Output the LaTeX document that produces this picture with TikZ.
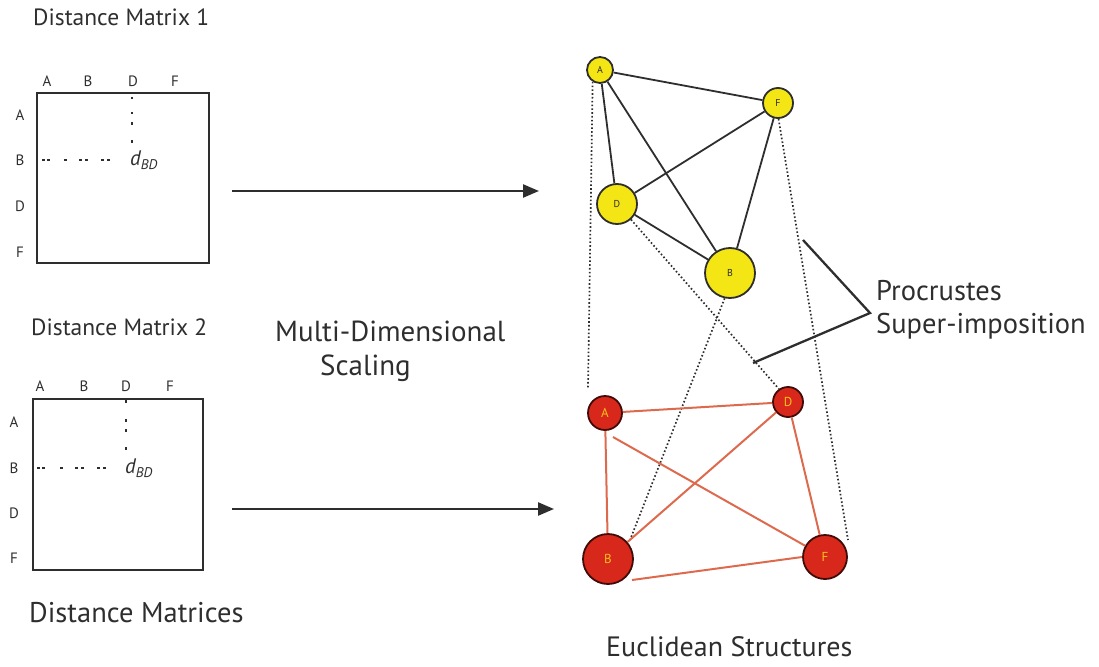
\documentclass[tikz,border=0pt]{standalone}
\usepackage{fontspec}
\setmainfont{PT Sans}
\usetikzlibrary{arrows.meta}
\definecolor{ink}{HTML}{2E2E2E}
\definecolor{ylfill}{HTML}{F4E514}
\definecolor{rdfill}{HTML}{D8281C}
\definecolor{rdline}{HTML}{DE6A4E}
\definecolor{rdtext}{HTML}{F6C21A}
\tikzset{
  lbl/.style={text=ink, inner sep=0pt},
  axis/.style={lbl, font=\fontsize{15}{15}\selectfont},
  title/.style={lbl, anchor=west, font=\fontsize{23.5}{23.5}\selectfont},
  big/.style={lbl, font=\fontsize{29}{37}\selectfont},
  matbox/.style={draw=ink, line width=2pt},
  mdash/.style={draw=ink, line width=1.6pt},
  flow/.style={draw=ink, line width=2.4pt, -{Triangle[length=16pt,width=13pt]}},
  ynode/.style={circle, draw=ink, line width=1.8pt, fill=ylfill, inner sep=0pt,
    font=\fontsize{10}{10}\selectfont, text=ink},
  rnode/.style={circle, draw=black!70!rdfill, line width=1.8pt, fill=rdfill, inner sep=0pt,
    font=\fontsize{13}{13}\selectfont, text=rdtext},
  yedge/.style={draw=ink, line width=1.8pt},
  redge/.style={draw=rdline, line width=2pt},
  link/.style={draw=ink, line width=1.7pt, dash pattern=on 1.6pt off 2.2pt},
  brace/.style={draw=ink, line width=2.3pt}
}
\begin{document}
\begin{tikzpicture}[x=1pt, y=-1pt]
\useasboundingbox (0,0) rectangle (1099,666);

% ---------- distance matrix 1 ----------
\node[title] (t1) at (33,17) {Distance Matrix 1};
\draw[matbox] (37,93) rectangle (209,263);
\node[axis] (c1a) at (47,81) {A};
\node[axis] (c1b) at (88,81) {B};
\node[axis] (c1d) at (133,81) {D};
\node[axis] (c1f) at (175,81) {F};
\node[axis] (r1a) at (20,115) {A};
\node[axis] (r1b) at (20,160) {B};
\node[axis] (r1d) at (20,206) {D};
\node[axis] (r1f) at (20,252) {F};
\foreach \y in {97,112,122,140} \draw[mdash] (132,\y) -- (132,\y+2.5);
\foreach \x in {42,47,64,79,85,101,107} \draw[mdash] (\x,160) -- (\x+3,160);
\node[lbl, anchor=west, font=\fontsize{21}{21}\selectfont] (d1) at (130,160)
  {\itshape d\raisebox{-0.35ex}{\fontsize{14}{14}\selectfont BD}};

% ---------- distance matrix 2 ----------
\node[title] (t2) at (31,327) {Distance Matrix 2};
\draw[matbox] (33,399) rectangle (203,570);
\node[axis] (c2a) at (40,386) {A};
\node[axis] (c2b) at (84,386) {B};
\node[axis] (c2d) at (126,386) {D};
\node[axis] (c2f) at (170,386) {F};
\node[axis] (r2a) at (14,422) {A};
\node[axis] (r2b) at (14,468) {B};
\node[axis] (r2d) at (14,513) {D};
\node[axis] (r2f) at (14,558) {F};
\foreach \y in {400,419,429,447} \draw[mdash] (126,\y) -- (126,\y+2.5);
\foreach \x in {37,42,60,75,81,97,103} \draw[mdash] (\x,468) -- (\x+3,468);
\node[lbl, anchor=west, font=\fontsize{21}{21}\selectfont] (d2) at (125,468)
  {\itshape d\raisebox{-0.35ex}{\fontsize{14}{14}\selectfont BD}};

% ---------- MDS arrows ----------
\coordinate (a1s) at (232,191);
\coordinate (a1e) at (539,191);
\coordinate (a2s) at (232,509);
\coordinate (a2e) at (554,509);
\draw[flow] (a1s) -- (a1e);
\draw[flow] (a2s) -- (a2e);
\node[big, anchor=west] (mds1) at (275,331) {Multi-Dimensional};
\node[big, anchor=west] (mds2) at (320,368) {Scaling};

% ---------- first configuration (yellow) ----------
\node[ynode, minimum size=26pt] (yA) at (600,70) {A};
\node[ynode, minimum size=30pt] (yF) at (778,103) {F};
\node[ynode, minimum size=40pt] (yD) at (617,204) {D};
\node[ynode, minimum size=50pt] (yB) at (730,273) {B};

% ---------- second configuration (red) ----------
\node[rnode, minimum size=34pt] (rA) at (605,413) {A};
\node[rnode, minimum size=30pt] (rD) at (788,402) {D};
\node[rnode, minimum size=50pt] (rB) at (608,559) {B};
\node[rnode, minimum size=44pt] (rF) at (825,557) {F};

% correspondence links between the two configurations
\coordinate (pA) at (588,388);
\coordinate (pF) at (848,540);
\coordinate (pB) at (630,540);
\draw[link] (yA.238) -- (pA);
\draw[link] (yF.272) -- (pF);
\draw[link] (yD.-48) -- (rD.125);
\draw[link] (yB.258) -- (pB);

% yellow edges
\draw[yedge] (yA) -- (yF);
\draw[yedge] (yA) -- (yD);
\draw[yedge] (yA) -- (yB);
\draw[yedge] (yF) -- (yD);
\draw[yedge] (yF) -- (yB);
\draw[yedge] (yD) -- (yB);

% red edges
\coordinate (rAo) at (613,437);
\coordinate (rBo) at (632,580);
\draw[redge] (rA) -- (rD);
\draw[redge] (rA) -- (rB);
\draw[redge] (rAo) -- (rF);
\draw[redge] (rD) -- (rB);
\draw[redge] (rD) -- (rF);
\draw[redge] (rBo) -- (rF.west);

% ---------- Procrustes bracket ----------
\coordinate (b1) at (803,240);
\coordinate (b2) at (870,313);
\coordinate (b3) at (753,363);
\draw[brace, line join=miter] (b1) -- (b2) -- (b3);
\node[lbl, anchor=west, font=\fontsize{28.5}{28.5}\selectfont] (proc1) at (876,291) {Procrustes};
\node[lbl, anchor=west, font=\fontsize{28.5}{28.5}\selectfont] (proc2) at (876,326) {Super-imposition};

% ---------- captions ----------
\node[lbl, anchor=west, font=\fontsize{28.5}{28.5}\selectfont] (capL) at (29,613) {Distance Matrices};
\node[lbl, anchor=west, font=\fontsize{28}{28}\selectfont] (capR) at (606,647) {Euclidean Structures};
\end{tikzpicture}
\end{document}
